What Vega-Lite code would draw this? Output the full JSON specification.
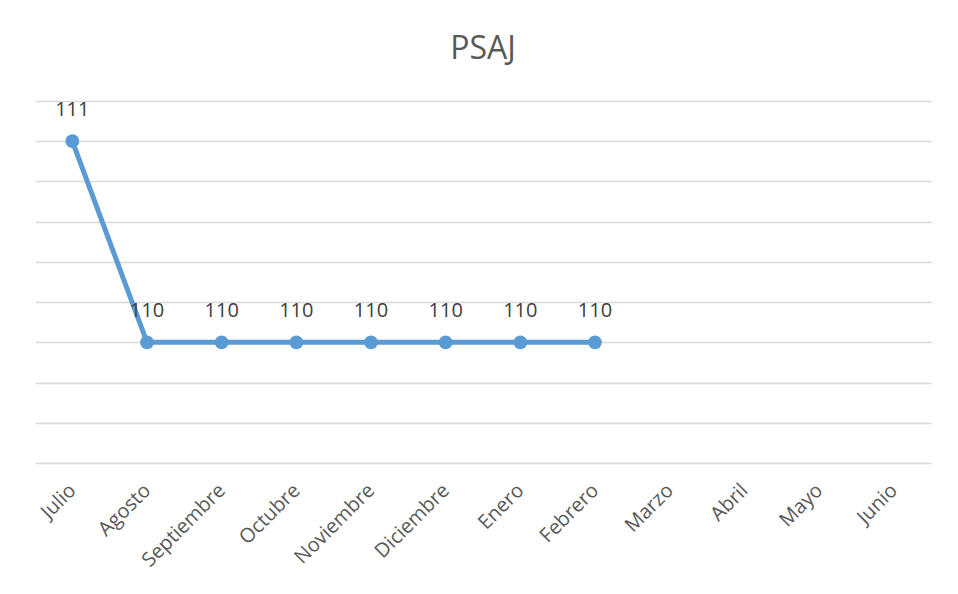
{
  "$schema": "https://vega.github.io/schema/vega-lite/v6.json",
  "autosize": {"type": "none"},
  "width": 896,
  "height": 362,
  "padding": {"left": 35, "top": 101, "right": 27, "bottom": 131},
  "background": "white",
  "title": {"text": "PSAJ", "fontSize": 32, "font": "Open Sans", "fontWeight": "normal", "color": "#595959", "offset": 34, "anchor": "middle"},
  "data": {"values": [
    {"mes": "Julio", "valor": 111},
    {"mes": "Agosto", "valor": 110},
    {"mes": "Septiembre", "valor": 110},
    {"mes": "Octubre", "valor": 110},
    {"mes": "Noviembre", "valor": 110},
    {"mes": "Diciembre", "valor": 110},
    {"mes": "Enero", "valor": 110},
    {"mes": "Febrero", "valor": 110},
    {"mes": "Marzo", "valor": null},
    {"mes": "Abril", "valor": null},
    {"mes": "Mayo", "valor": null},
    {"mes": "Junio", "valor": null}
  ]},
  "encoding": {
    "x": {"field": "mes", "type": "nominal", "sort": null,
      "scale": {"type": "point", "padding": 0.5, "domain": ["Julio","Agosto","Septiembre","Octubre","Noviembre","Diciembre","Enero","Febrero","Marzo","Abril","Mayo","Junio"]},
      "axis": {"title": null, "labelAngle": -45, "labelAlign": "right", "labelBaseline": "middle", "labelFont": "Open Sans", "labelFontSize": 20, "labelColor": "#595959", "ticks": false, "domain": false, "grid": false, "labelPadding": 24}},
    "y": {"field": "valor", "type": "quantitative",
      "scale": {"domain": [109.4, 111.2], "nice": false, "zero": false},
      "axis": {"title": null, "labels": false, "ticks": false, "domain": false, "grid": true, "gridColor": "#d9d9d9", "gridWidth": 1.5, "values": [109.4, 109.6, 109.8, 110, 110.2, 110.4, 110.6, 110.8, 111, 111.2]}}
  },
  "layer": [
    {"mark": {"type": "line", "color": "#5b9bd5", "strokeWidth": 5}},
    {"mark": {"type": "point", "filled": true, "opacity": 1, "color": "#5b9bd5", "size": 190}},
    {"mark": {"type": "text", "dy": -31, "font": "Open Sans", "fontSize": 20, "color": "#404040"}, "encoding": {"text": {"field": "valor", "type": "quantitative", "format": "d"}}}
  ],
  "config": {"view": {"stroke": null}}
}
